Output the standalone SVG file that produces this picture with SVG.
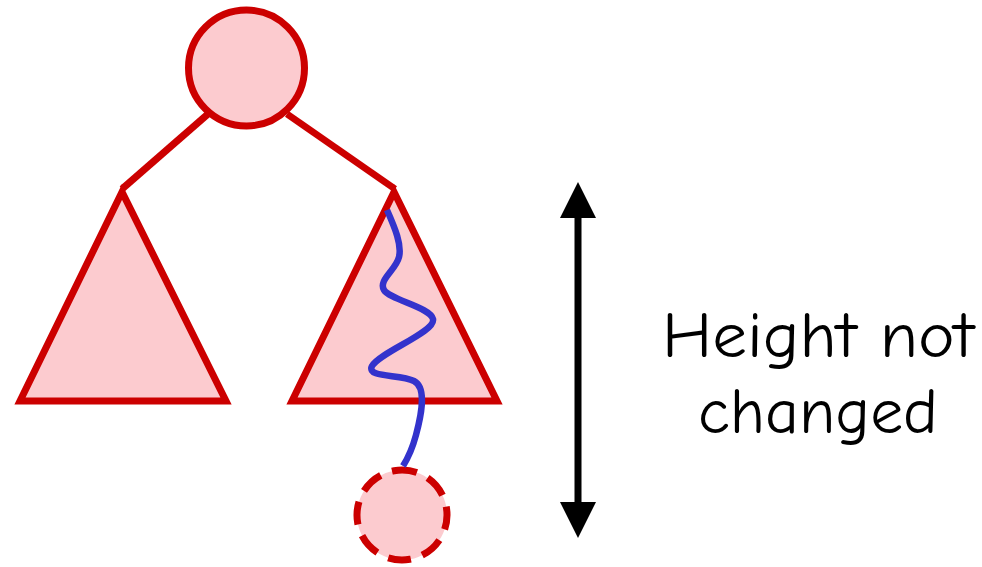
<svg xmlns="http://www.w3.org/2000/svg" width="982" height="567" viewBox="0 0 982 567">
<style>
.node{fill:#fccbcf;stroke:#cc0000;stroke-width:7;stroke-linejoin:miter}
.edge{stroke:#cc0000;stroke-width:7;fill:none}
.label{font-family:"Comic Sans MS","Comic Neue","Liberation Sans",sans-serif;font-size:64px;fill:#000;text-anchor:middle}
</style>
<defs>
<marker id="ah" viewBox="0 0 36 36" refX="18" refY="18" markerWidth="36" markerHeight="36" markerUnits="userSpaceOnUse" orient="auto-start-reverse">
<path d="M0,0 L36,18 L0,36 Z" fill="#000"/>
</marker>
</defs>
<rect width="982" height="567" fill="#fff"/>
<g id="connectors">
<line class="edge" x1="208" y1="114" x2="122" y2="189"/>
<line class="edge" x1="287" y1="114" x2="395" y2="189"/>
</g>
<g id="root"><circle class="node" cx="246.5" cy="68" r="58"/></g>
<g id="left-subtree"><polygon class="node" points="122,192 20,401 226,401"/></g>
<g id="right-subtree"><polygon class="node" points="394,192 292,401 497,401"/></g>
<g id="new-node"><circle cx="402" cy="515" r="45" fill="#fccbcf" stroke="#cc0000" stroke-width="7" stroke-dasharray="23 12" transform="rotate(-100 402 515)"/></g>
<g id="path">
<path d="M387,210 C395,228 402,245 399,257 C396,270 378,280 384,290 C390,300 430,307 433,319 C436,332 380,352 372,366 C366,378 400,374 414,381 C428,388 420,420 416,435 C412,450 408,458 403,466" fill="none" stroke="#3333cc" stroke-width="6.5"/>
</g>
<g id="height-arrow">
<line x1="578" y1="200" x2="578" y2="520" stroke="#000" stroke-width="7" marker-start="url(#ah)" marker-end="url(#ah)"/>
</g>
<g id="label">
<text class="label" x="818" y="357" textLength="312" lengthAdjust="spacingAndGlyphs">Height not</text>
<text class="label" x="818" y="433" textLength="240" lengthAdjust="spacingAndGlyphs">changed</text>
</g>
</svg>
